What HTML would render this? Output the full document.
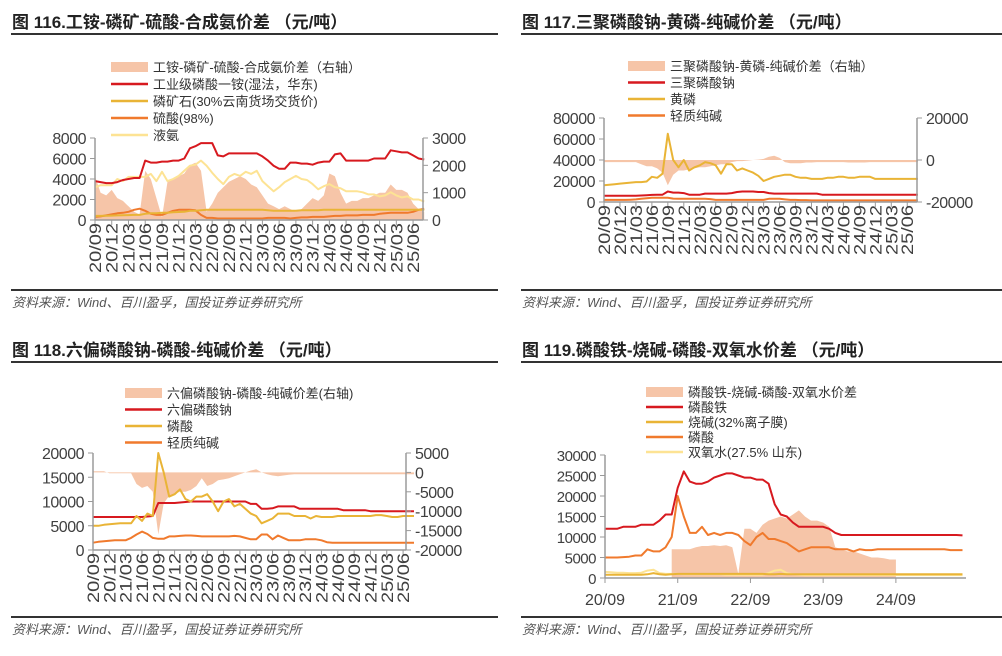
<!DOCTYPE html>
<html><head><meta charset="utf-8"><style>
html,body{margin:0;padding:0;background:#fff;}
svg{display:block;font-family:"Liberation Sans","Noto Sans CJK SC",sans-serif;}
</style></head><body>
<svg id="root" width="1002" height="656" viewBox="0 0 1002 656" xmlns="http://www.w3.org/2000/svg"></svg>
<script>
// ---- shared data ----
const ticks3 = ['20/09','20/12','21/03','21/06','21/09','21/12','22/03','22/06','22/09','22/12','23/03','23/06','23/09','23/12','24/03','24/06','24/09','24/12','25/03','25/06'];
const ticksYear = ['20/09','21/09','22/09','23/09','24/09'];
// Chart 116 (monthly, index 0 = 2020/09)
const c1Spread = [1600,1000,900,1100,800,700,500,300,200,1800,1500,800,100,1400,1500,1600,1700,2000,2100,1800,300,600,1000,1200,1400,1500,1600,1500,1300,1200,900,600,500,400,500,400,300,400,600,800,700,900,1700,1600,1000,600,700,700,800,800,900,1000,1000,1300,1100,1100,1000,600,400,300];
const c1MAP = [3800,3700,3600,3600,3700,3900,4000,4100,4100,5800,5600,5600,5700,5700,5800,5800,6000,7000,7200,7500,7500,7500,6300,6200,6500,6500,6500,6500,6500,6500,6200,5800,5300,5000,5000,5600,5600,5500,5500,5400,5600,5700,5700,6400,6500,5800,5800,5800,5800,5800,6000,6000,6000,6800,6700,6600,6600,6300,6000,5900];
const c1Rock = [400,400,420,430,450,460,480,500,500,600,650,650,700,700,750,780,800,900,900,950,1000,1000,1000,1000,1000,1000,1000,1000,1000,1000,1000,950,900,900,900,900,900,950,950,950,950,1000,1000,1000,1000,1000,1000,1000,1000,1000,1000,1000,1000,1000,1000,1000,1000,1000,1000,1000];
const c1Acid = [300,350,450,550,650,700,800,1000,1100,900,600,500,500,700,900,1000,1000,1000,950,500,200,200,150,150,150,150,150,150,150,150,150,200,200,200,200,150,200,250,250,300,300,300,350,400,400,450,450,450,500,500,500,600,650,700,700,700,700,800,1000,1100];
const c1NH3 = [3200,3400,3400,3400,4000,3800,4200,4200,4200,4200,4500,3800,4700,3800,4000,4300,4800,5300,5400,5800,5300,4600,4000,3500,4200,4500,4300,4700,4500,4800,3800,3300,2800,3200,3700,4000,4300,4000,3900,3500,3000,3300,3500,3200,3100,2800,2800,2800,2700,2500,2500,2300,2400,2700,2400,2200,2300,2000,2000,1800];
// Chart 117
const c2Spread = [-1000,-1000,-1000,-1000,-1000,-1000,-1000,-2000,-3000,-3000,-4000,-6000,-12000,-7000,-5000,-5000,-4500,-4000,-3500,-3500,-3000,-2500,-2000,-2000,-1000,-500,-500,-300,0,200,500,1500,2000,1000,-1000,-1500,-1500,-1500,-1200,-1200,-1000,-1000,-1000,-1000,-1000,-1000,-1200,-1200,-1200,-1200,-1000,-1000,-1000,-1000,-1000,-1000,-1000,-1000,-1000,-1000];
const c2STPP = [6000,6000,6000,6000,6000,6000,6000,6200,6500,6800,7000,7000,10000,9000,9000,8500,7000,7000,7000,8000,8000,8000,8000,8000,8500,9500,10000,10000,10000,9500,9500,8500,8000,8000,8000,8000,8000,8000,8000,8000,8000,7000,7000,7000,7000,7000,7000,7000,7000,7000,7000,7000,7000,7000,7000,7000,7000,7000,7000,7000];
const c2P4 = [16000,16500,17000,17500,18000,18500,19000,19000,19500,24000,23000,27000,65000,40000,33000,40000,30000,33000,35000,38000,37000,35000,27000,36000,36000,30000,32000,30000,28000,25000,20000,22000,24000,25000,26000,26000,24000,23000,23000,22000,22000,22000,23000,23000,24000,24000,23000,23000,24000,24000,24000,22000,22000,22000,22000,22000,22000,22000,22000,22000];
const c2Soda = [2000,2000,2000,2000,2000,2200,2500,3000,3500,4000,4000,4000,4000,3200,3000,3000,3000,3000,3000,3000,2800,2000,2000,2000,2000,2000,2000,2000,2000,2000,2000,3000,3000,3000,2500,2000,2000,1800,1800,1500,1500,1500,1500,1500,1500,1500,1500,1500,1500,1500,1500,1500,1500,1500,1500,1500,1500,1500,1500,1500];
// Chart 118
const c3Spread = [300,300,300,-200,-200,-200,-200,-200,-3000,-4000,-3500,-5000,-16000,-8000,-6000,-5500,-5000,-5000,-4500,-3500,-1500,-3500,-3000,-2000,-1800,-1500,-1000,-500,0,500,800,0,-500,-800,-1000,-800,-600,-500,-500,-500,-500,-500,-500,-500,-500,-500,-500,-500,-500,-500,-500,-500,-500,-500,-500,-500,-500,-500,-500,-500];
const c3SHMP = [6800,6800,6800,6800,6800,6800,6800,6800,6800,6800,6900,7000,9700,9700,9700,9700,9800,9900,10000,10000,10000,10000,10000,10000,10000,10000,10000,10000,10000,9500,9500,8500,8500,8600,9000,9000,9000,9000,8500,8500,8500,8500,8500,8500,8500,8500,8200,8200,8200,8200,8200,8000,8000,8000,8000,8000,8000,8000,8000,8000];
const c3H3PO4 = [5000,5000,5200,5300,5400,5500,5500,5500,7000,6000,7500,7000,20000,16000,11000,11500,12500,10500,10000,11000,11000,11500,10000,8000,10000,10500,9000,9500,8500,7500,7000,5500,6000,6500,7500,7500,7500,7000,7000,7000,6500,7000,6800,6800,6800,7000,7000,7000,7000,7000,7000,7000,7200,7200,7000,6800,6800,7000,7000,7000];
const c3Soda = [1500,1700,1800,1900,2000,2000,2000,2500,3200,3800,3300,2500,2300,2300,2800,2800,2900,3000,3000,2900,2800,2800,2800,2800,2800,2800,2900,2800,2500,2200,2200,3200,3200,2200,3000,2500,2000,2000,2000,2200,2200,2200,2000,1600,1500,1500,1500,1500,1500,1500,1500,1500,1500,1500,1500,1500,1500,1500,1500,1500];
// Chart 119
const c4Spread = [null,null,null,null,null,null,null,null,null,null,null,7000,7000,7000,7000,7500,7800,7800,8000,7800,8000,7500,1000,12000,12000,11000,13000,14000,14500,15000,14500,15500,16500,15000,14000,14000,13500,12500,7500,7000,6500,6500,6000,5500,5000,5000,4800,4500,4500,null,null,null,null,null,null,null,null,null,null,null];
const c4LFP = [12000,12000,12000,12500,12500,12500,13000,13000,13000,14000,15500,15500,22000,26000,23500,23000,23000,23500,24500,25000,25500,25500,25000,24500,24500,24000,24000,23000,18000,15500,15000,13500,12500,12500,12500,12500,12500,12000,11000,10500,10500,10500,10500,10500,10500,10500,10500,10500,10500,10500,10500,10500,10500,10500,10500,10500,10500,10500,10500,10400];
const c4NaOH = [800,800,800,800,800,800,800,900,1200,900,800,900,1000,1000,1000,1000,1000,1000,1000,1000,1000,1000,1000,1000,1000,1000,1000,900,900,1000,900,900,900,900,900,900,900,900,900,900,900,900,900,900,900,900,900,900,900,900,900,900,900,900,900,900,900,900,900,900];
const c4H3PO4 = [5000,5000,5000,5100,5200,5500,5500,7000,6500,6500,7500,10000,20000,15000,11000,11000,12500,10500,11000,10500,11000,11000,10500,9000,8000,10000,11000,9500,9500,9000,8500,7500,6500,7000,7500,7500,7500,7500,7000,7000,7000,6500,7000,6800,6800,7000,7000,7000,7000,7000,7000,7000,7000,7000,7000,7000,7000,6800,6800,6800];
const c4H2O2 = [1500,1400,1300,1300,1200,1200,1300,1800,2000,1200,1000,1000,1000,900,900,900,900,900,900,900,800,800,800,800,800,800,800,1200,1800,2000,1200,900,800,700,700,700,700,700,700,700,700,700,700,700,700,700,700,700,700,700,700,700,700,700,700,700,700,700,700,700];

const NS='http://www.w3.org/2000/svg';
const root=document.getElementById('root');
function el(tag,attrs,parent,txt){const e=document.createElementNS(NS,tag);for(const k in attrs)e.setAttribute(k,attrs[k]);if(txt!==undefined)e.textContent=txt;(parent||root).appendChild(e);return e;}
const C={area:'#f6c5a8',red:'#d7191f',gold:'#e9b436',orange:'#f07a2d',pale:'#fde394',axis:'#9a9a9a',text:'#404040'};

function frame(ox,oy,title){
  const g=el('g',{},root);
  
  
  const t=el('text',{x:ox+12,y:oy+28,'font-size':17,'font-weight':'bold',fill:'#222'},g,title);
  
  
  el('line',{x1:ox+11,y1:oy+34,x2:ox+498,y2:oy+34,stroke:'#333','stroke-width':2},g);
  const sy = oy===0?290:617;
  el('line',{x1:ox+11,y1:sy,x2:ox+498,y2:sy,stroke:'#333','stroke-width':2},g);
  const s=el('text',{x:ox+12,y:sy+17,'font-size':13,'font-style':'italic',fill:'#555'},g,'资料来源：Wind、百川盈孚，国投证券证券研究所');
  
  
  return g;
}

function legend(g,x,y0,dy,items){
  items.forEach((it,i)=>{
    const y=y0+i*dy;
    const lg=el('g',{},g);
    
    
    if(it.area) el('rect',{x:x,y:y-5,width:37,height:10,fill:C.area},lg);
    else el('line',{x1:x,y1:y,x2:x+37,y2:y,stroke:it.c,'stroke-width':2.5},lg);
    el('text',{x:x+42,y:y+5,'font-size':13,fill:'#333'},lg,it.t);
  });
}

function chart(g,p){
  const X=m=>p.x0+m*p.pm;
  const YL=v=>p.bot-(v-p.lmin)/(p.lmax-p.lmin)*(p.bot-p.top);
  const YR=v=>p.bot-(v-p.rmin)/(p.rmax-p.rmin)*(p.bot-p.top);
  if(p.area){
    const Y=p.areaLeft?YL:YR; const base=Y(0);
    let seg=[];
    const flush=()=>{if(seg.length){const pts=[[seg[0][0],base],...seg,[seg[seg.length-1][0],base]].map(a=>a.join(',')).join(' ');
      const a=el('polygon',{points:pts,fill:C.area},g);
      
      }seg=[];};
    p.area.forEach((v,i)=>{if(v===null){flush();}else seg.push([X(i).toFixed(1),Y(v).toFixed(1)]);});
    flush();
  }
  p.lines.forEach(s=>{
    const pts=s.d.map((v,i)=>X(i).toFixed(1)+','+YL(v).toFixed(1)).join(' ');
    const l=el('polyline',{points:pts,fill:'none',stroke:s.c,'stroke-width':2,'stroke-linejoin':'round'},g);
    
    
  });
  el('line',{x1:p.x0,y1:p.top,x2:p.x0,y2:p.bot,stroke:C.axis,'stroke-width':1.5},g);
  el('line',{x1:p.x0,y1:p.bot,x2:p.xr,y2:p.bot,stroke:C.axis,'stroke-width':1.5},g);
  p.lt.forEach(v=>{const y=YL(v);el('line',{x1:p.x0-5,y1:y,x2:p.x0,y2:y,stroke:C.axis},g);
    const t=el('text',{x:p.x0-9,y:y+6,'font-size':p.fs||16,'text-anchor':'end',fill:C.text,'letter-spacing':'-0.5'},g,v);
    
    });
  if(p.rt){el('line',{x1:p.xr,y1:p.top,x2:p.xr,y2:p.bot,stroke:C.axis,'stroke-width':1.5},g);
    p.rt.forEach(v=>{const y=YR(v);el('line',{x1:p.xr,y1:y,x2:p.xr+5,y2:y,stroke:C.axis},g);
      const t=el('text',{x:p.xr+9,y:y+6,'font-size':16,fill:C.text,'letter-spacing':'-0.5'},g,v);
      
      });}
  p.xt.forEach((lab,i)=>{const m=i*p.xstep;const x=X(m);
    el('line',{x1:x,y1:p.bot,x2:x,y2:p.bot+5,stroke:C.axis},g);
    let t;
    if(p.rot) t=el('text',{x:0,y:0,transform:`translate(${x+6},${p.bot+3}) rotate(-90)`,'font-size':17,'text-anchor':'end',fill:C.text,textLength:50,lengthAdjust:'spacingAndGlyphs'},g,lab);
    else t=el('text',{x:x,y:p.bot+27,'font-size':16,'text-anchor':'middle',fill:C.text},g,lab);
    
    });
}

let g=frame(0,0,'图 116.工铵-磷矿-硫酸-合成氨价差 （元/吨）');
chart(g,{x0:95,pm:5.58,xr:423,top:138,bot:220,lmin:0,lmax:8000,rmin:0,rmax:3000,lt:[0,2000,4000,6000,8000],rt:[0,1000,2000,3000],xt:ticks3,xstep:3,rot:true,area:c1Spread,
  lines:[{d:c1NH3,c:C.pale,n:'liquid-ammonia-line'},{d:c1Acid,c:C.orange,n:'sulfuric-acid-line'},{d:c1Rock,c:C.gold,n:'phosphate-rock-line'},{d:c1MAP,c:C.red,n:'map-line'}]});
legend(g,111,67,17,[{area:1,t:'工铵-磷矿-硫酸-合成氨价差（右轴）'},{c:C.red,t:'工业级磷酸一铵(湿法，华东)'},{c:C.gold,t:'磷矿石(30%云南货场交货价)'},{c:C.orange,t:'硫酸(98%)'},{c:C.pale,t:'液氨'}]);

g=frame(510,0,'图 117.三聚磷酸钠-黄磷-纯碱价差 （元/吨）');
chart(g,{x0:604,pm:5.32,xr:917,top:118,bot:202,lmin:0,lmax:80000,rmin:-20000,rmax:20000,lt:[0,20000,40000,60000,80000],rt:[-20000,0,20000],xt:ticks3,xstep:3,rot:true,area:c2Spread,
  lines:[{d:c2Soda,c:C.orange,n:'soda-ash-line'},{d:c2STPP,c:C.red,n:'stpp-line'},{d:c2P4,c:C.gold,n:'yellow-phosphorus-line'}]});
legend(g,628,66,16.5,[{area:1,t:'三聚磷酸钠-黄磷-纯碱价差（右轴）'},{c:C.red,t:'三聚磷酸钠'},{c:C.gold,t:'黄磷'},{c:C.orange,t:'轻质纯碱'}]);

g=frame(0,328,'图 118.六偏磷酸钠-磷酸-纯碱价差 （元/吨）');
chart(g,{x0:93,pm:5.44,xr:406,top:453,bot:550,lmin:0,lmax:20000,rmin:-20000,rmax:5000,lt:[0,5000,10000,15000,20000],rt:[-20000,-15000,-10000,-5000,0,5000],xt:ticks3,xstep:3,rot:true,area:c3Spread,
  lines:[{d:c3Soda,c:C.orange,n:'soda-ash-line'},{d:c3SHMP,c:C.red,n:'shmp-line'},{d:c3H3PO4,c:C.gold,n:'phosphoric-acid-line'}]});
legend(g,125,393,16.5,[{area:1,t:'六偏磷酸钠-磷酸-纯碱价差(右轴)'},{c:C.red,t:'六偏磷酸钠'},{c:C.gold,t:'磷酸'},{c:C.orange,t:'轻质纯碱'}]);

g=frame(510,328,'图 119.磷酸铁-烧碱-磷酸-双氧水价差 （元/吨）');
chart(g,{x0:605,pm:6.06,xr:966,top:455,bot:578,lmin:0,lmax:30000,lt:[0,5000,10000,15000,20000,25000,30000],fs:15,xt:ticksYear,xstep:12,rot:false,area:c4Spread,areaLeft:true,
  lines:[{d:c4H2O2,c:C.pale,n:'hydrogen-peroxide-line'},{d:c4NaOH,c:C.gold,n:'caustic-soda-line'},{d:c4H3PO4,c:C.orange,n:'phosphoric-acid-line'},{d:c4LFP,c:C.red,n:'iron-phosphate-line'}]});
legend(g,646,392,15,[{area:1,t:'磷酸铁-烧碱-磷酸-双氧水价差'},{c:C.red,t:'磷酸铁'},{c:C.gold,t:'烧碱(32%离子膜)'},{c:C.orange,t:'磷酸'},{c:C.pale,t:'双氧水(27.5% 山东)'}]);
</script>
</body></html>
